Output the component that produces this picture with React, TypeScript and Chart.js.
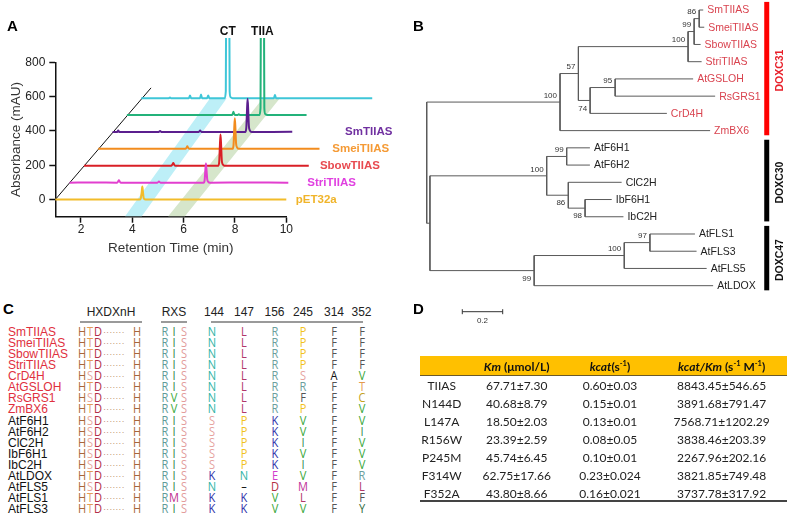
import React, { useEffect, useRef } from 'react';
import { Chart, registerables } from 'chart.js';

Chart.register(...registerables);

const SANS = '"Liberation Sans", Arial, Helvetica, sans-serif';
const OPEN = '"Open Sans", "Liberation Sans", sans-serif';
const LATO = 'Lato, "Open Sans", sans-serif';

// ================= Panel A : HPLC traces =================
const RT_TICKS = [2, 4, 6, 8, 10];
const ABS_TICKS = [0, 200, 400, 600, 800];
const TRACE_NAMES = ['pET32a', 'StriTIIAS', 'SbowTIIAS', 'SmeiTIIAS', 'SmTIIAS', 'TIIA', 'CT'];
// [retention time (min), absorbance (mAU)] of each chromatogram
const PET32A = [
  [1.0, 0], [2.6, 0.5], [4.28, 0], [4.33, 7], [4.365, 42], [4.39, 76], [4.415, 45], [4.44, 11], [4.48, 2], [4.58, 0], [7.5, 0.5], [10.0, 0],
];
const STRI_TIIAS = [
  [1.0, 0], [2.0, 0.5], [2.85, 0], [2.89, 6], [2.92, 14], [2.95, 6], [2.99, 0], [4.42, 0], [4.48, 6], [4.54, 0],
  [6.22, 0], [6.26, 14], [6.285, 66], [6.31, 111], [6.335, 72], [6.36, 20], [6.4, 5], [6.47, 0], [8.0, 0.5], [9.52, 0], [9.58, 4], [9.64, 0], [10.0, 0],
];
const SBOW_TIIAS = [
  [1.0, 0], [2.5, 0.5], [4.41, 0], [4.45, 8], [4.48, 16], [4.51, 8], [4.56, 0],
  [6.23, 0], [6.27, 22], [6.295, 112], [6.32, 182], [6.345, 118], [6.37, 32], [6.41, 8], [6.48, 0], [8.0, 0.5], [9.76, 0], [9.82, 5], [9.88, 0], [10.0, 0],
];
const SMEI_TIIAS = [
  [1.0, 0], [2.5, 0.5], [4.4, 0], [4.44, 7], [4.47, 15], [4.5, 7], [4.55, 0],
  [6.23, 0], [6.27, 22], [6.295, 110], [6.32, 178], [6.345, 115], [6.37, 30], [6.41, 8], [6.48, 0], [8.0, 0.5], [9.62, 0], [9.67, 4], [9.72, 0], [10.0, 0],
];
const SM_TIIAS = [
  [1.0, 0], [1.18, 0], [1.22, 8], [1.26, 0], [2.8, 0], [2.85, 6], [2.9, 0], [4.36, 0], [4.41, 8], [4.46, 0],
  [6.17, 0], [6.21, 24], [6.235, 118], [6.26, 193], [6.285, 122], [6.31, 34], [6.35, 8], [6.42, 0], [8.0, 0.5], [9.49, 0], [9.54, 5], [9.59, 0], [10.0, 0],
];
const TIIA_STD = [
  [1.0, 0], [3.0, 0.5], [5.1, 0], [5.13, 10], [5.15, 19], [5.17, 10], [5.21, 0], [5.3, 0], [5.36, 4], [5.42, 0],
  [6.17, 0], [6.205, 40], [6.215, 400], [6.22, 2000], [6.34, 2000], [6.345, 400], [6.355, 40], [6.39, 6], [6.47, 0], [8.0, 0.5], [10.0, 0],
];
const CT_STD = [
  [1.0, 0], [2.08, 0], [2.12, 4], [2.16, 0], [2.86, 0], [2.9, 16], [2.94, 0], [3.29, 0], [3.33, 21], [3.37, 0], [3.57, 0], [3.61, 16], [3.65, 0],
  [4.26, 0], [4.295, 40], [4.305, 400], [4.31, 2000], [4.43, 2000], [4.435, 400], [4.445, 40], [4.48, 6], [4.56, 0], [6.17, 0], [6.21, 19], [6.25, 0], [10.0, 0],
];
const TRACES = [PET32A, STRI_TIIAS, SBOW_TIIAS, SMEI_TIIAS, SM_TIIAS, TIIA_STD, CT_STD];
// stacking offsets of the pseudo-3D view
const RT_STEP = 0.558;
const ABS_STEP = 98.5;
// highlighted retention windows (x in min, y in mAU), polygon corners
const CT_BAND = [[3.72, -98], [4.37, -98], [7.68, 590], [7.03, 590]];
const TIIA_BAND = [[5.4, -98], [6.05, -98], [9.75, 590], [9.09, 590]];
const DEPTH_AXIS = [[1, 0], [4.73, 651]];

const TRACE_COLORS = ['#f2bc2a', '#e23fcf', '#d91f26', '#f28c1e', '#5b1f8e', '#23b27a', '#3fc6d8'];
const LABEL_COLORS = ['#f0b42a', '#e040e0', '#e84a50', '#f59a35', '#7030a0'];
const TRACE_LABEL_POS = [[10.37, 0], [10.82, 98.5], [11.31, 197], [11.79, 295.5], [12.29, 394]];
const PEAK_TAGS = [['CT', 7.72, 977], ['TIIA', 9.07, 977]];

const panelAPlugin = {
  id: 'panelA',
  beforeDatasetsDraw(chart: any) {
    const { ctx } = chart;
    const xs = chart.scales.x;
    const ys = chart.scales.y;
    const bands: any[] = [[CT_BAND, '#bdeff7'], [TIIA_BAND, '#d6e6cb']];
    bands.forEach(([pts, col]) => {
      ctx.save();
      ctx.beginPath();
      pts.forEach(([vx, vy]: number[], i: number) => {
        const px = xs.getPixelForValue(vx);
        const py = ys.getPixelForValue(vy);
        if (i) ctx.lineTo(px, py); else ctx.moveTo(px, py);
      });
      ctx.closePath();
      ctx.fillStyle = col;
      ctx.fill();
      ctx.restore();
    });
  },
  afterDatasetsDraw(chart: any) {
    const { ctx } = chart;
    const xs = chart.scales.x;
    const ys = chart.scales.y;
    ctx.save();
    ctx.textBaseline = 'middle';
    ctx.textAlign = 'left';
    ctx.font = `bold 11.5px ${SANS}`;
    TRACE_LABEL_POS.forEach(([vx, vy], k) => {
      ctx.fillStyle = LABEL_COLORS[k];
      ctx.fillText(TRACE_NAMES[k], xs.getPixelForValue(vx), ys.getPixelForValue(vy));
    });
    ctx.textAlign = 'center';
    ctx.font = `bold 12px ${SANS}`;
    ctx.fillStyle = '#111';
    PEAK_TAGS.forEach(([t, vx, vy]: any) => {
      ctx.fillText(t, xs.getPixelForValue(vx), ys.getPixelForValue(vy));
    });
    ctx.restore();
  },
};

function configA(): any {
  const axisCommon = {
    grid: { drawOnChartArea: false, drawTicks: true, tickLength: 6, tickColor: '#111', tickWidth: 1.5, color: '#111' },
    border: { display: true, color: '#111', width: 1.5 },
  };
  return {
    type: 'line',
    data: {
      datasets: [
        ...TRACES.map((pts, k) => ({
          label: TRACE_NAMES[k],
          data: pts.map(([t, a]) => ({ x: t + k * RT_STEP, y: a + k * ABS_STEP })),
          borderColor: TRACE_COLORS[k],
          borderWidth: 2,
          pointRadius: 0,
          fill: false,
          cubicInterpolationMode: 'monotone',
          clip: { left: false, top: 24.3, right: false, bottom: false },
        })),
        {
          label: 'depth',
          data: DEPTH_AXIS.map(([x, y]) => ({ x, y })),
          borderColor: '#111',
          borderWidth: 1,
          pointRadius: 0,
          fill: false,
          clip: false,
        },
      ],
    },
    options: {
      responsive: false,
      animation: false,
      events: [],
      layout: { padding: { left: 0, top: 62.3, right: 113.7, bottom: 0 } },
      plugins: { legend: { display: false }, tooltip: { enabled: false } },
      scales: {
        x: {
          type: 'linear',
          min: 1,
          max: 10,
          ...axisCommon,
          afterBuildTicks: (s: any) => { s.ticks = RT_TICKS.map((v) => ({ value: v })); },
          afterFit: (s: any) => { s.height = 45.3; },
          ticks: { font: { family: SANS, size: 12 }, color: '#222', padding: 0, maxRotation: 0, autoSkip: false },
          title: { display: true, text: 'Retention Time (min)', font: { family: SANS, size: 13.5 }, color: '#333', padding: { top: 0, bottom: 5.9 } },
        },
        y: {
          type: 'linear',
          min: -100,
          max: 800,
          ...axisCommon,
          afterBuildTicks: (s: any) => { s.ticks = ABS_TICKS.map((v) => ({ value: v })); },
          afterFit: (s: any) => { s.width = 55.3; },
          ticks: { font: { family: SANS, size: 12 }, color: '#222', padding: 4, autoSkip: false },
          title: { display: true, text: 'Absorbance (mAU)', font: { family: SANS, size: 13.5 }, color: '#333', padding: { top: 8.4, bottom: 0 } },
        },
      },
    },
    plugins: [panelAPlugin],
  };
}

// ================= Panel B : phylogenetic tree =================
const TREE_NEWICK =
  '(' +
  '(((((SmTIIAS:0.020,SmeiTIIAS:0.025)86:0.025,SbowTIIAS:0.032)99:0.030,StriTIIAS:0.067)100:0.543,((AtGSLOH:0.386,RsGRS1:0.495)95:0.124,CrD4H:0.380)74:0.058)57:0.091,ZmBX6:0.743)100:0.660,' +
  '(((AtF6H1:0.115,AtF6H2:0.115)99:0.099,(ClC2H:0.264,(IbF6H1:0.132,IbC2H:0.190)98:0.083)86:0.107)100:0.578,(((AtFLS1:0.223,AtFLS3:0.231)97:0.127,AtFLS5:0.408)100:0.446,AtLDOX:0.886)99:0.516):0.016' +
  ');';
const GROUP_NAMES = ['DOXC31', 'DOXC30', 'DOXC47'];
const GROUP_FIRST_LEAF = [0, 8, 13];
const GROUP_LAST_LEAF = [7, 12, 16];
const SCALE_BAR_LENGTH = 0.2;

type TNode = { name: string; len: number; children: TNode[]; x: number; y: number; parent: TNode | null };

function parseNewick(s: string): TNode {
  let i = 0;
  const node = (parent: TNode | null): TNode => {
    const n: TNode = { name: '', len: 0, children: [], x: 0, y: 0, parent };
    if (s[i] === '(') {
      i++;
      n.children.push(node(n));
      while (s[i] === ',') { i++; n.children.push(node(n)); }
      i++;
    }
    let name = '';
    while (i < s.length && !',():;'.includes(s[i])) name += s[i++];
    n.name = name;
    if (s[i] === ':') {
      i++;
      let num = '';
      while (i < s.length && !',();'.includes(s[i])) num += s[i++];
      n.len = parseFloat(num);
    }
    return n;
  };
  return node(null);
}

const TREE_ROOT = parseNewick(TREE_NEWICK);
const TREE_NODES: TNode[] = [];
(function layout() {
  let leaf = 0;
  const walk = (n: TNode, x0: number) => {
    n.x = x0 + n.len;
    TREE_NODES.push(n);
    if (!n.children.length) { n.y = leaf++; return; }
    n.children.forEach((c) => walk(c, n.x));
    n.y = (n.children[0].y + n.children[n.children.length - 1].y) / 2;
  };
  walk(TREE_ROOT, 0);
})();
const TREE_LEAVES = TREE_NODES.filter((n) => !n.children.length);

function treeSegments() {
  const pts: any[] = [];
  TREE_NODES.forEach((n) => {
    if (n.parent) {
      pts.push({ x: n.parent.x, y: n.y }, { x: n.x, y: n.y }, { x: NaN, y: NaN });
    }
    if (n.children.length) {
      pts.push({ x: n.x, y: n.children[0].y }, { x: n.x, y: n.children[n.children.length - 1].y }, { x: NaN, y: NaN });
    }
  });
  return pts;
}

const TREE_RED = '#d9434f';
const treePlugin = {
  id: 'treeLabels',
  afterDatasetsDraw(chart: any) {
    const { ctx } = chart;
    const xs = chart.scales.x;
    const ys = chart.scales.y;
    ctx.save();
    ctx.textBaseline = 'middle';
    // leaf names
    ctx.font = `10.5px ${SANS}`;
    ctx.textAlign = 'left';
    TREE_LEAVES.forEach((n, i) => {
      ctx.fillStyle = i <= GROUP_LAST_LEAF[0] ? TREE_RED : '#222';
      ctx.fillText(n.name, xs.getPixelForValue(n.x) + 4, ys.getPixelForValue(n.y) + 0.5);
    });
    // bootstrap values
    ctx.font = `8px ${SANS}`;
    ctx.textAlign = 'right';
    ctx.fillStyle = '#333';
    TREE_NODES.forEach((n) => {
      if (!n.children.length || !n.name || !n.parent) return;
      const first = n.parent.children[0] === n;
      const px = xs.getPixelForValue(n.x) - 3;
      const py = ys.getPixelForValue(n.y) + (first ? -6.5 : 8);
      ctx.fillText(n.name, px, py);
    });
    // clade bars
    const barX = xs.getPixelForValue(1.671);
    const lblX = xs.getPixelForValue(1.749);
    GROUP_NAMES.forEach((g, k) => {
      const top = ys.getPixelForValue(GROUP_FIRST_LEAF[k] - 0.47);
      const bot = ys.getPixelForValue(GROUP_LAST_LEAF[k] + 0.27);
      ctx.fillStyle = k === 0 ? '#ff0000' : '#000';
      ctx.fillRect(barX, top, 5, bot - top);
      ctx.save();
      ctx.translate(lblX, (top + bot) / 2 + 2);
      ctx.rotate(-Math.PI / 2);
      ctx.textAlign = 'center';
      ctx.font = `bold 10.5px ${SANS}`;
      ctx.fillStyle = k === 0 ? '#e8202a' : '#111';
      ctx.fillText(g, 0, 0);
      ctx.restore();
    });
    // scale bar
    const sx0 = xs.getPixelForValue(0.1762);
    const sx1 = xs.getPixelForValue(0.1762 + SCALE_BAR_LENGTH);
    const sy = ys.getPixelForValue(17.51);
    ctx.strokeStyle = '#333';
    ctx.lineWidth = 1;
    ctx.beginPath();
    ctx.moveTo(sx0, sy); ctx.lineTo(sx1, sy);
    ctx.moveTo(sx0, sy - 2.5); ctx.lineTo(sx0, sy + 2.5);
    ctx.moveTo(sx1, sy - 2.5); ctx.lineTo(sx1, sy + 2.5);
    ctx.stroke();
    ctx.font = `8px ${SANS}`;
    ctx.textAlign = 'center';
    ctx.fillStyle = '#333';
    ctx.fillText(String(SCALE_BAR_LENGTH), (sx0 + sx1) / 2, sy + 9);
    ctx.restore();
  },
};

function configB(): any {
  return {
    type: 'scatter',
    data: {
      datasets: [
        {
          label: 'tree',
          data: treeSegments(),
          showLine: true,
          spanGaps: false,
          borderColor: '#5a5a5a',
          borderWidth: 1,
          pointRadius: 0,
        },
      ],
    },
    options: {
      responsive: false,
      animation: false,
      events: [],
      layout: { padding: 0 },
      plugins: { legend: { display: false }, tooltip: { enabled: false } },
      scales: {
        x: { type: 'linear', display: false, min: -0.1322, max: 1.7936 },
        y: { type: 'linear', display: false, reverse: true, min: -0.5804, max: 18.5723 },
      },
    },
    plugins: [treePlugin],
  };
}

// ================= Panel C : alignment =================
const ENZYMES = ['SmTIIAS', 'SmeiTIIAS', 'SbowTIIAS', 'StriTIIAS', 'CrD4H', 'AtGSLOH', 'RsGRS1', 'ZmBX6', 'AtF6H1', 'AtF6H2', 'ClC2H', 'IbF6H1', 'IbC2H', 'AtLDOX', 'AtFLS5', 'AtFLS1', 'AtFLS3'];
const DOXC31_COUNT = 8;
const HXD_MOTIF = ['HTD', 'HTD', 'HTD', 'HTD', 'HSD', 'HTD', 'HSD', 'HTD', 'HSD', 'HSD', 'HSD', 'HSD', 'HSD', 'HTD', 'HSD', 'HTD', 'HTD'];
const RXS_MOTIF = ['RIS', 'RIS', 'RIS', 'RIS', 'RIS', 'RIS', 'RVS', 'RVS', 'RIS', 'RIS', 'RIS', 'RIS', 'RIS', 'RIS', 'RIS', 'RMS', 'RIS'];
const SITE_POSITIONS = ['144', '147', '156', '245', '314', '352'];
const SITE_RESIDUES = ['NLRPFF', 'NLRPFF', 'NLRPFF', 'NLRPFF', 'NLRSAV', 'NLRRFT', 'NLRFFC', 'NLRPFV', 'SPKVFV', 'SPKVFI', 'SPKIFV', 'SPKVFV', 'SPKIFV', 'KNEVFR', 'N-DMFL', 'KKVLFF', 'KKVVFY'];

const HXD_COLORS: Record<string, string> = { H: '#a8663a', T: '#e39a55', S: '#e8a79c', D: '#b22f4a' };
const RXS_COLORS: Record<string, string> = { R: '#5f9c98', I: '#2e8a4c', V: '#3aaa3a', M: '#c0308f', S: '#e29c9c' };
const RES_COLORS: Record<string, string> = {
  N: '#2fb3a6', L: '#b0386a', R: '#6b9f9d', P: '#f2c21b', F: '#555555', A: '#111111', V: '#36a636', T: '#e49a4c',
  C: '#c4a21c', S: '#e6a3a0', K: '#2b2fa8', I: '#2e8f55', E: '#d23ccc', D: '#b3303f', M: '#c1329a', Y: '#2f6b3a', '-': '#111111',
};

const C_ROW_Y0 = 331.7;
const C_ROW_DY = 11.1;
const HXD_X = [82, 90, 98];
const H2_X = 137;
const RXS_X = [164.5, 174, 183.5];
const SITE_X = [212, 244, 274.5, 303, 334, 361.5];

// ================= Panel D : kinetics table =================
const MUTANTS = ['TIIAS', 'N144D', 'L147A', 'R156W', 'P245M', 'F314W', 'F352A'];
const KM_MEAN = ['67.71', '40.68', '18.50', '23.39', '45.74', '62.75', '43.80'];
const KM_SD = ['7.30', '8.79', '2.03', '2.59', '6.45', '17.66', '8.66'];
const KCAT_MEAN = ['0.60', '0.15', '0.13', '0.08', '0.10', '0.23', '0.16'];
const KCAT_SD = ['0.03', '0.01', '0.01', '0.05', '0.01', '0.024', '0.021'];
const EFF_MEAN = ['8843.45', '3891.68', '7568.71', '3838.46', '2267.96', '3821.85', '3737.78'];
const EFF_SD = ['546.65', '791.47', '1202.29', '203.39', '202.16', '749.48', '317.92'];
const D_COL_X = [441.7, 516.7, 610, 721.7];

function Txt({ x, y, align = 'left', sx = 1, style, children }: any) {
  const tx = align === 'center' ? '-50%' : align === 'right' ? '-100%' : '0';
  return (
    <div
      style={{
        position: 'absolute', left: x, top: y,
        transform: `translate(${tx}, -50%)${sx !== 1 ? ` scaleX(${sx})` : ''}`,
        whiteSpace: 'nowrap', lineHeight: 1, ...style,
      }}
    >
      {children}
    </div>
  );
}

const PANEL_LETTER = { fontFamily: SANS, fontWeight: 'bold', fontSize: 15, color: '#000' };

function PanelC() {
  const letter = { fontFamily: OPEN, fontSize: 13.5 };
  const SX = 0.82;
  return (
    <>
      <Txt x={3} y={308} style={PANEL_LETTER}>C</Txt>
      <Txt x={111} y={311.7} align="center" style={{ fontFamily: SANS, fontSize: 12, color: '#222' }}>HXDXnH</Txt>
      <Txt x={174} y={311.7} align="center" style={{ fontFamily: SANS, fontSize: 12, color: '#222' }}>RXS</Txt>
      {SITE_POSITIONS.map((p, j) => (
        <Txt key={p} x={SITE_X[j] + (j === 0 ? 2 : 0)} y={311.7} align="center" style={{ fontFamily: SANS, fontSize: 12, color: '#222' }}>{p}</Txt>
      ))}
      <div style={{ position: 'absolute', left: 80, top: 321, width: 62, height: 2, background: '#9a9a9a' }} />
      <div style={{ position: 'absolute', left: 160.7, top: 321, width: 26, height: 2, background: '#9a9a9a' }} />
      <div style={{ position: 'absolute', left: 210.7, top: 321, width: 152.6, height: 2, background: '#9a9a9a' }} />
      {ENZYMES.map((name, i) => {
        const y = C_ROW_Y0 + i * C_ROW_DY;
        return (
          <React.Fragment key={name}>
            <Txt x={8} y={y} style={{ fontFamily: SANS, fontSize: 12, color: i < DOXC31_COUNT ? '#e0303e' : '#111' }}>{name}</Txt>
            {HXD_MOTIF[i].split('').map((ch, j) => (
              <Txt key={'h' + j} x={HXD_X[j]} y={y} align="center" sx={SX} style={{ ...letter, color: HXD_COLORS[ch] }}>{ch}</Txt>
            ))}
            <Txt x={114} y={y + 1} align="center" style={{ fontFamily: SANS, fontSize: 8, letterSpacing: 0.4, color: '#a86b45' }}>·······</Txt>
            <Txt x={H2_X} y={y} align="center" sx={SX} style={{ ...letter, color: HXD_COLORS.H }}>H</Txt>
            {RXS_MOTIF[i].split('').map((ch, j) => (
              <Txt key={'r' + j} x={RXS_X[j]} y={y} align="center" sx={SX} style={{ ...letter, color: RXS_COLORS[ch] }}>{ch}</Txt>
            ))}
            {SITE_RESIDUES[i].split('').map((ch, j) => (
              <Txt key={'s' + j} x={SITE_X[j]} y={y} align="center" sx={SX} style={{ ...letter, color: RES_COLORS[ch] }}>{ch === '-' ? '–' : ch}</Txt>
            ))}
          </React.Fragment>
        );
      })}
    </>
  );
}

function PanelD() {
  const head = { fontFamily: LATO, fontSize: 12, fontWeight: 'bold', color: '#111' };
  const cell = { fontFamily: LATO, fontSize: 12, color: '#222' };
  const sup = { fontSize: 7.5, verticalAlign: 'super', lineHeight: 0 };
  return (
    <>
      <Txt x={413} y={308} style={PANEL_LETTER}>D</Txt>
      <div style={{ position: 'absolute', left: 420, top: 356, width: 367, height: 20, background: '#ffc000', borderBottom: '1px solid #6b5a2a', boxSizing: 'border-box' }} />
      <Txt x={D_COL_X[1]} y={366.5} align="center" style={head}><i>Km</i> (μmol/L)</Txt>
      <Txt x={D_COL_X[2]} y={366.5} align="center" style={head}><i>kcat</i>(s<span style={sup}>-1</span>)</Txt>
      <Txt x={D_COL_X[3]} y={366.5} align="center" style={head}><i>kcat/Km</i> (s<span style={sup}>-1</span> M<span style={sup}>-1</span>)</Txt>
      {MUTANTS.map((m, i) => {
        const y = 386 + i * 18;
        return (
          <React.Fragment key={m}>
            <Txt x={D_COL_X[0]} y={y} align="center" style={cell}>{m}</Txt>
            <Txt x={D_COL_X[1]} y={y} align="center" style={cell}>{KM_MEAN[i]}±{KM_SD[i]}</Txt>
            <Txt x={D_COL_X[2]} y={y} align="center" style={cell}>{KCAT_MEAN[i]}±{KCAT_SD[i]}</Txt>
            <Txt x={D_COL_X[3]} y={y} align="center" style={cell}>{EFF_MEAN[i]}±{EFF_SD[i]}</Txt>
          </React.Fragment>
        );
      })}
      <div style={{ position: 'absolute', left: 420, top: 500, width: 367, height: 2, background: '#444' }} />
    </>
  );
}

export default function App() {
  const aRef = useRef<HTMLCanvasElement>(null);
  const bRef = useRef<HTMLCanvasElement>(null);
  useEffect(() => {
    const ca = new Chart(aRef.current as HTMLCanvasElement, configA());
    const cb = new Chart(bRef.current as HTMLCanvasElement, configB());
    return () => {
      ca.destroy();
      cb.destroy();
    };
  }, []);
  return (
    <div style={{ position: 'absolute', left: 0, top: 0, width: 789, height: 525, background: '#fff', overflow: 'hidden', fontFamily: SANS }}>
      <canvas ref={aRef} width={400} height={262} style={{ position: 'absolute', left: 0, top: 0, width: 400, height: 262 }} />
      <canvas ref={bRef} width={389} height={330} style={{ position: 'absolute', left: 400, top: 0, width: 389, height: 330 }} />
      <Txt x={7} y={25} style={PANEL_LETTER}>A</Txt>
      <Txt x={413} y={25} style={PANEL_LETTER}>B</Txt>
      <PanelC />
      <PanelD />
    </div>
  );
}
